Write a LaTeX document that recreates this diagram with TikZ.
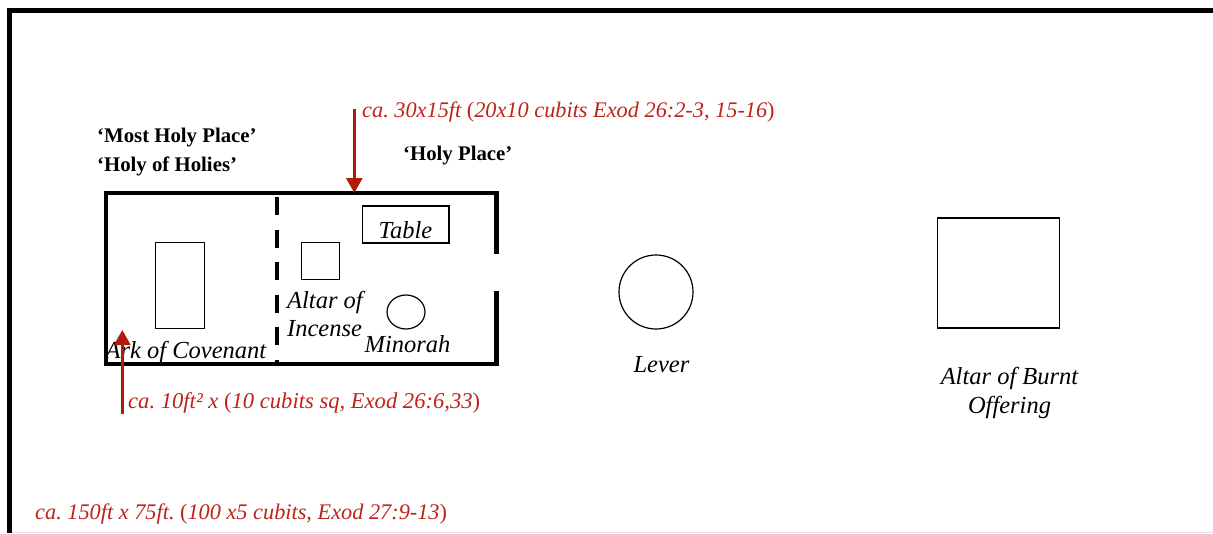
\documentclass[tikz,border=0pt]{standalone}
\usepackage{fontspec}
\setmainfont{Liberation Serif}
\usetikzlibrary{arrows.meta,shapes.geometric}
\definecolor{redc}{RGB}{190,35,25}
\definecolor{arrowc}{RGB}{176,28,10}
\begin{document}
\frenchspacing
\begin{tikzpicture}[x=1pt,y=-1pt,
  thinbox/.style={draw,line width=1.2pt,inner sep=0pt},
  wall/.style={draw,line width=4.5pt},
  lab/.style={font=\itshape\fontsize{24.5}{28.5}\selectfont,inner sep=0pt,align=center},
  redlab/.style={font=\itshape\fontsize{22.3}{26}\selectfont,inner sep=0pt,text=redc,anchor=west},
  headlab/.style={font=\bfseries\fontsize{20.8}{24}\selectfont,inner sep=0pt,anchor=west},
  redarrow/.style={-{Triangle[length=15pt,width=16pt]},draw=arrowc,line width=3pt}]
\useasboundingbox (0,0) rectangle (1213,533);
\fill[white] (0,0) rectangle (1213,533);
\draw[line width=5.2pt] (1213,10.5) -- (9.4,10.5) -- (9.4,533);
\draw[line width=.8pt,black!12] (12,532.6) -- (1213,532.6);
\draw[wall] (496.7,253.5) -- (496.7,193) -- (106,193) -- (106,363.8) -- (496.7,363.8) -- (496.7,291);
\draw[line width=4pt,dash pattern=on 18pt off 14.5pt] (276.7,197) -- (276.7,362);
\node[thinbox,minimum width=49.4pt,minimum height=86.4pt] (ark) at (180,285.5) {};
\node[thinbox,minimum width=37.3pt,minimum height=37.4pt] (inc) at (320.5,261) {};
\node[thinbox,minimum width=86.3pt,minimum height=37pt] (tab) at (405.8,224.5) {};
\node[thinbox,ellipse,minimum width=38pt,minimum height=34pt] (men) at (406,312) {};
\node[thinbox,circle,minimum size=74pt] (lvr) at (656,292) {};
\node[thinbox,minimum width=122.5pt,minimum height=110pt] (alt) at (998.5,273) {};
\node[lab] (tabl) at (405.5,230) {Table};
\node[lab,align=left,anchor=north west] (incl) at (287,291) {Altar of\\Incense};
\node[lab] (minl) at (407.5,344) {Minorah};
\node[lab] (arkl) at (186,352.5) {Ark of Covenant};
\node[lab] (levl) at (661.5,364.5) {Lever};
\node[lab] (altl) at (1009.5,393) {Altar of Burnt\\Offering};
\node[headlab] (h1) at (97,137.5) {‘Most Holy Place’};
\node[headlab] (h2) at (97,166.5) {‘Holy of Holies’};
\node[headlab] (h3) at (403,155.5) {‘Holy Place’};
\node[redlab] (r1) at (362,112) {ca. 30x15ft {\upshape(}20x10 cubits Exod 26:2-3, 15-16{\upshape)}};
\node[redlab,font=\itshape\fontsize{22.6}{26}\selectfont] (r2) at (128,403) {ca. 10ft² x {\upshape(}10 cubits sq, Exod 26:6,33{\upshape)}};
\node[redlab] (r3) at (35,514) {ca. 150ft x 75ft. {\upshape(}100 x5 cubits, Exod 27:9-13{\upshape)}};
\coordinate (a1) at (354.3,109); \coordinate (a1e) at (354.3,193);
\coordinate (a2) at (122.3,414); \coordinate (a2e) at (122.3,330);
\draw[redarrow] (a1) -- (a1e);
\draw[redarrow] (a2) -- (a2e);
\end{tikzpicture}
\end{document}
